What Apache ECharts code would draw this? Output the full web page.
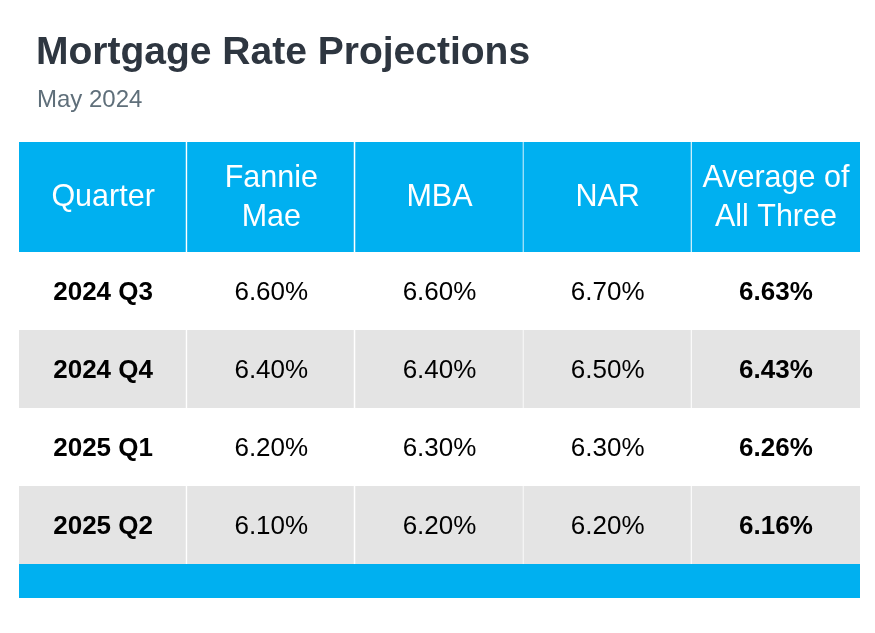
<!DOCTYPE html>
<html>
<head>
<meta charset="utf-8">
<script src="https://cdn.jsdelivr.net/npm/echarts@6/dist/echarts.min.js"></script>
<style>
html,body{margin:0;padding:0;background:#fff;}
#chart{width:875px;height:633px;}
</style>
</head>
<body>
<div id="chart"></div>
<script>
// ---- data ----
const headerLabels = ['Quarter', 'Fannie\nMae', 'MBA', 'NAR', 'Average of\nAll Three'];
const quarters = ['2024 Q3', '2024 Q4', '2025 Q1', '2025 Q2'];
const fannieMae = [6.60, 6.40, 6.20, 6.10];
const mba = [6.60, 6.40, 6.30, 6.20];
const nar = [6.70, 6.50, 6.30, 6.20];
const averageOfAll = [6.63, 6.43, 6.26, 6.16];

const BLUE = '#00b0f0';
const GREY = '#e4e4e4';
const FONT = 'Liberation Sans, Arial, sans-serif';

const headerData = headerLabels.map((l, i) => [i, 0, l]);
const bodyData = [];
quarters.forEach((q, r) => {
  const vals = [q, fannieMae[r].toFixed(2) + '%', mba[r].toFixed(2) + '%', nar[r].toFixed(2) + '%', averageOfAll[r].toFixed(2) + '%'];
  vals.forEach((v, c) => bodyData.push([c, r, v]));
});

function cellRender(kind) {
  return function (params, api) {
    const c = api.coord([api.value(0), api.value(1)]);
    const s = api.size([1, 1]);
    const x0 = c[0] - s[0] / 2, y0 = c[1] - s[1] / 2;
    const col = api.value(0), row = api.value(1);
    const label = kind === 'head' ? headerData[params.dataIndex][2] : bodyData[params.dataIndex][2];
    let fill, textFill, weight, size;
    if (kind === 'head') {
      fill = BLUE; textFill = '#ffffff'; weight = 'normal'; size = 30.5;
    } else {
      fill = row % 2 === 1 ? GREY : '#ffffff';
      textFill = '#000000';
      weight = (col === 0 || col === 4) ? 'bold' : 'normal';
      size = 26;
    }
    const children = [
      { type: 'rect', shape: { x: x0, y: y0, width: s[0], height: s[1] }, style: { fill: fill } },
      { type: 'text', x: c[0], y: c[1] + (kind === 'head' ? 1 : 2),
        style: { text: label, align: 'center', verticalAlign: 'middle', fontSize: size, fontWeight: weight,
                 fontFamily: FONT, fill: textFill, lineHeight: 39 } }
    ];
    if (col < 4) {
      const xr = Math.round(x0 + s[0]) - 0.5;
      children.push({ type: 'line', shape: { x1: xr, y1: y0, x2: xr, y2: y0 + s[1] }, style: { stroke: '#ffffff', lineWidth: 1.5 } });
    }
    return { type: 'group', children: children };
  };
}

const hiddenAxis = { axisLine: { show: false }, axisTick: { show: false }, axisLabel: { show: false }, splitLine: { show: false } };

const option = {
  animation: false,
  backgroundColor: '#ffffff',
  title: [
    { text: 'Mortgage Rate Projections', left: 36, top: 34, padding: 0,
      textStyle: { fontSize: 39, fontWeight: 'bold', color: '#2e3640', fontFamily: FONT } },
    { text: 'May 2024', left: 37, top: 88, padding: 0,
      textStyle: { fontSize: 24, fontWeight: 'normal', color: '#5f6f7a', fontFamily: FONT } }
  ],
  grid: [
    { left: 19, right: 15, top: 142, height: 110 },
    { left: 19, right: 15, top: 252, height: 312 },
    { left: 19, right: 15, top: 564, height: 34, show: true, backgroundColor: BLUE, borderWidth: 0 }
  ],
  xAxis: [
    Object.assign({ type: 'category', gridIndex: 0, data: [0, 1, 2, 3, 4] }, hiddenAxis),
    Object.assign({ type: 'category', gridIndex: 1, data: [0, 1, 2, 3, 4] }, hiddenAxis),
    Object.assign({ type: 'category', gridIndex: 2, data: [0] }, hiddenAxis)
  ],
  yAxis: [
    Object.assign({ type: 'category', gridIndex: 0, data: [0] }, hiddenAxis),
    Object.assign({ type: 'category', gridIndex: 1, data: [0, 1, 2, 3], inverse: true }, hiddenAxis),
    Object.assign({ type: 'category', gridIndex: 2, data: [0] }, hiddenAxis)
  ],
  series: [
    { type: 'custom', xAxisIndex: 0, yAxisIndex: 0, renderItem: cellRender('head'),
      data: headerData.map(d => [d[0], d[1]]) },
    { type: 'custom', xAxisIndex: 1, yAxisIndex: 1, renderItem: cellRender('body'),
      data: bodyData.map(d => [d[0], d[1]]) }
  ]
};

const chart = echarts.init(document.getElementById('chart'), null, { renderer: 'canvas' });
chart.setOption(option);
</script>
</body>
</html>
